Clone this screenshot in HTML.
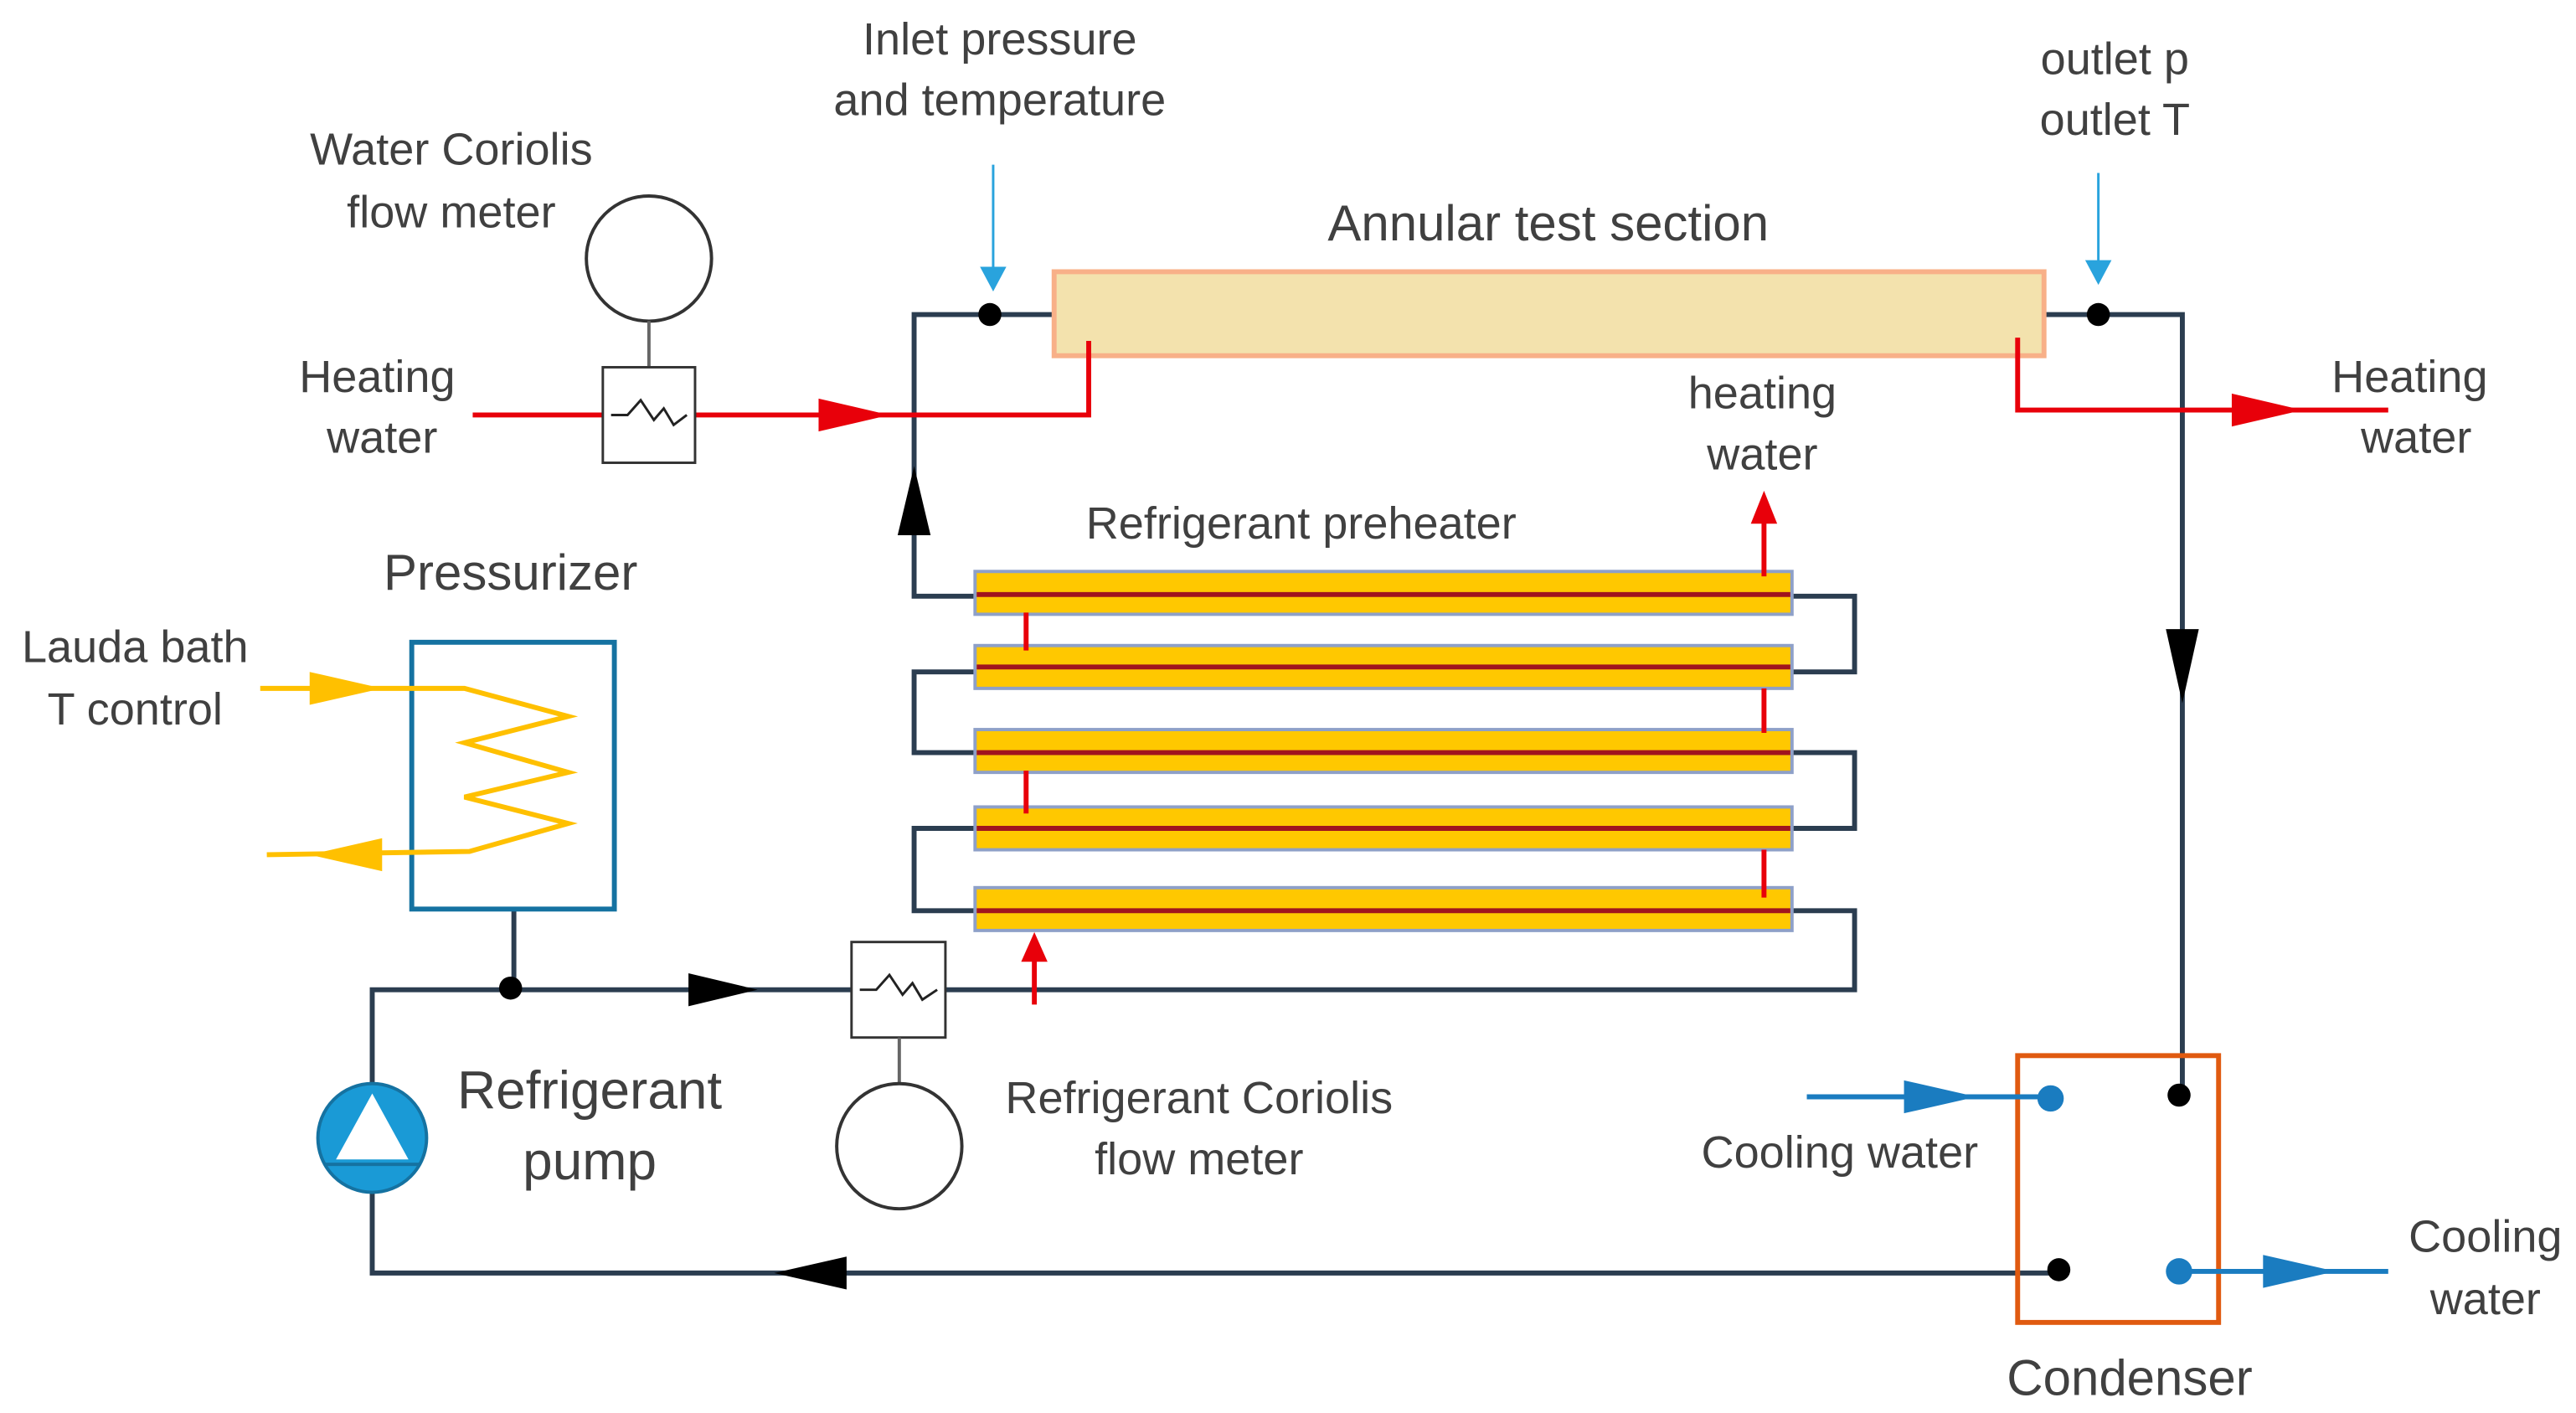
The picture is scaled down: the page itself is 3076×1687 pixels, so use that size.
<!DOCTYPE html>
<html><head><meta charset="utf-8"><style>
html,body{margin:0;padding:0;background:#fff;}
svg{display:block;}
text{font-family:"Liberation Sans",sans-serif;fill:#404040;text-anchor:middle;}
</style></head><body>
<svg width="3076" height="1687" viewBox="0 0 1564 858" preserveAspectRatio="none" xmlns="http://www.w3.org/2000/svg">
<rect width="1564" height="858" fill="#fff"/>
<g font-size="27.5">
<text x="607" y="33">Inlet pressure</text>
<text x="607" y="70">and temperature</text>
<text x="274" y="100">Water Coriolis</text>
<text x="274" y="138">flow meter</text>
<text x="1284" y="45">outlet p</text>
<text x="1284" y="82">outlet T</text>
<text x="229" y="238">Heating</text>
<text x="232" y="275">water</text>
<text x="1070" y="248">heating</text>
<text x="1070" y="285">water</text>
<text x="1463" y="238">Heating</text>
<text x="1467" y="275">water</text>
<text x="790" y="327">Refrigerant preheater</text>
<text x="82" y="402">Lauda bath</text>
<text x="82" y="440">T control</text>
<text x="728" y="676">Refrigerant Coriolis</text>
<text x="728" y="713">flow meter</text>
<text x="1117" y="709">Cooling water</text>
<text x="1509" y="760">Cooling</text>
<text x="1509" y="798">water</text>
</g>
<g font-size="30.5">
<text x="940" y="146">Annular test section</text>
<text x="310" y="358">Pressurizer</text>
<text x="358" y="673" font-size="32.5">Refrigerant</text>
<text x="358" y="716" font-size="32.5">pump</text>
<text x="1293" y="847">Condenser</text>
</g>

<g fill="none" stroke="#2b3d50" stroke-width="3">
<polyline points="640,191 555,191 555,362 592,362"/>
<polyline points="1241,191 1325,191 1325,660"/>
<polyline points="1088,362 1126,362 1126,408 1088,408"/>
<polyline points="592,408 555,408 555,457 592,457"/>
<polyline points="1088,457 1126,457 1126,503 1088,503"/>
<polyline points="592,503 555,503 555,553 592,553"/>
<polyline points="1088,553 1126,553 1126,601 574,601"/>
<polyline points="517,601 226,601 226,658"/>
<polyline points="226,724 226,773 1250,773"/>
<line x1="312" y1="552" x2="312" y2="600"/>
</g>
<g fill="#000">
<polygon points="555,283 545,325 565,325"/>
<polygon points="1325,427 1315,382 1335,382"/>
<polygon points="460,601 418,591 418,611"/>
<polygon points="470,773 514,763 514,783"/>
<circle cx="601" cy="191" r="7"/>
<circle cx="1274" cy="191" r="7"/>
<circle cx="310" cy="600" r="7"/>
<circle cx="1323" cy="665" r="7"/>
<circle cx="1250" cy="771" r="7"/>
</g>

<rect x="640" y="165" width="601" height="51" fill="#f3e2ad" stroke="#f8b088" stroke-width="3"/>

<g stroke="#29a3dd" stroke-width="1.5" fill="#29a3dd">
<line x1="603" y1="100" x2="603" y2="165"/>
<polygon points="603,177 595,162 611,162" stroke="none"/>
<line x1="1274" y1="105" x2="1274" y2="160"/>
<polygon points="1274,173 1266,158 1282,158" stroke="none"/>
</g>

<g fill="none" stroke="#e8000a" stroke-width="3">
<line x1="287" y1="252" x2="366" y2="252"/>
<polyline points="422,252 661,252 661,207"/>
<polyline points="1225,205 1225,249 1450,249"/>
</g>
<g fill="#e8000a">
<polygon points="540,252 497,242 497,262"/>
<polygon points="1398,249 1355,239 1355,259"/>
</g>

<circle cx="394" cy="157" r="38" fill="#fff" stroke="#333" stroke-width="2"/>
<line x1="394" y1="195" x2="394" y2="223" stroke="#666" stroke-width="2"/>
<rect x="366" y="223" width="56" height="58" fill="#fff" stroke="#333" stroke-width="1.5"/>
<polyline points="371,252 381,252 389,243 397,255 403,248 409,258 417,252" fill="none" stroke="#222" stroke-width="1.5"/>

<rect x="517" y="572" width="57" height="58" fill="#fff" stroke="#333" stroke-width="1.5"/>
<polyline points="522,601 532,601 540,592 548,604 554,597 560,607 569,601" fill="none" stroke="#222" stroke-width="1.5"/>
<line x1="546" y1="630" x2="546" y2="658" stroke="#666" stroke-width="2"/>
<circle cx="546" cy="696" r="38" fill="#fff" stroke="#333" stroke-width="2"/>

<g stroke="#8ea0c8" stroke-width="2" fill="#ffc800">
<rect x="592" y="347" width="496" height="26"/>
<rect x="592" y="392" width="496" height="26"/>
<rect x="592" y="443" width="496" height="26"/>
<rect x="592" y="490" width="496" height="26"/>
<rect x="592" y="539" width="496" height="26"/>
</g>
<g stroke="#a0141e" stroke-width="3">
<line x1="593" y1="361" x2="1087" y2="361"/>
<line x1="593" y1="405" x2="1087" y2="405"/>
<line x1="593" y1="457" x2="1087" y2="457"/>
<line x1="593" y1="503" x2="1087" y2="503"/>
<line x1="593" y1="553" x2="1087" y2="553"/>
</g>
<g stroke="#e8000a" stroke-width="3">
<line x1="623" y1="372" x2="623" y2="395"/>
<line x1="1071" y1="418" x2="1071" y2="445"/>
<line x1="623" y1="468" x2="623" y2="494"/>
<line x1="1071" y1="516" x2="1071" y2="545"/>
<line x1="1071" y1="350" x2="1071" y2="315"/>
<line x1="628" y1="610" x2="628" y2="580"/>
</g>
<g fill="#e8000a">
<polygon points="1071,298 1063,318 1079,318"/>
<polygon points="628,566 620,584 636,584"/>
</g>

<rect x="250" y="390" width="123" height="162" fill="#fff" stroke="#1572a1" stroke-width="3"/>
<g fill="none" stroke="#ffc000" stroke-width="3">
<polyline points="158,418 282,418 345,435 282,451 345,469 282,484 345,500 285,517 162,519"/>
</g>
<g fill="#ffc000">
<polygon points="232,418 188,408 188,428"/>
<polygon points="188,519 232,509 232,529"/>
</g>

<circle cx="226" cy="691" r="33" fill="#1a9ad6" stroke="#1572a1" stroke-width="2"/>
<polygon points="226,664 204,704 248,704" fill="#fff"/>
<line x1="197" y1="707" x2="255" y2="707" stroke="#1572a1" stroke-width="2"/>

<rect x="1225" y="641" width="122" height="162" fill="none" stroke="#e05a10" stroke-width="3"/>
<g stroke="#1a7cc0" stroke-width="3">
<line x1="1097" y1="666" x2="1245" y2="666"/>
<line x1="1323" y1="772" x2="1450" y2="772"/>
</g>
<g fill="#1a7cc0">
<polygon points="1200,666 1156,656 1156,676"/>
<polygon points="1418,772 1374,762 1374,782"/>
<circle cx="1245" cy="667" r="8"/>
<circle cx="1323" cy="772" r="8"/>
</g>
</svg>
</body></html>
